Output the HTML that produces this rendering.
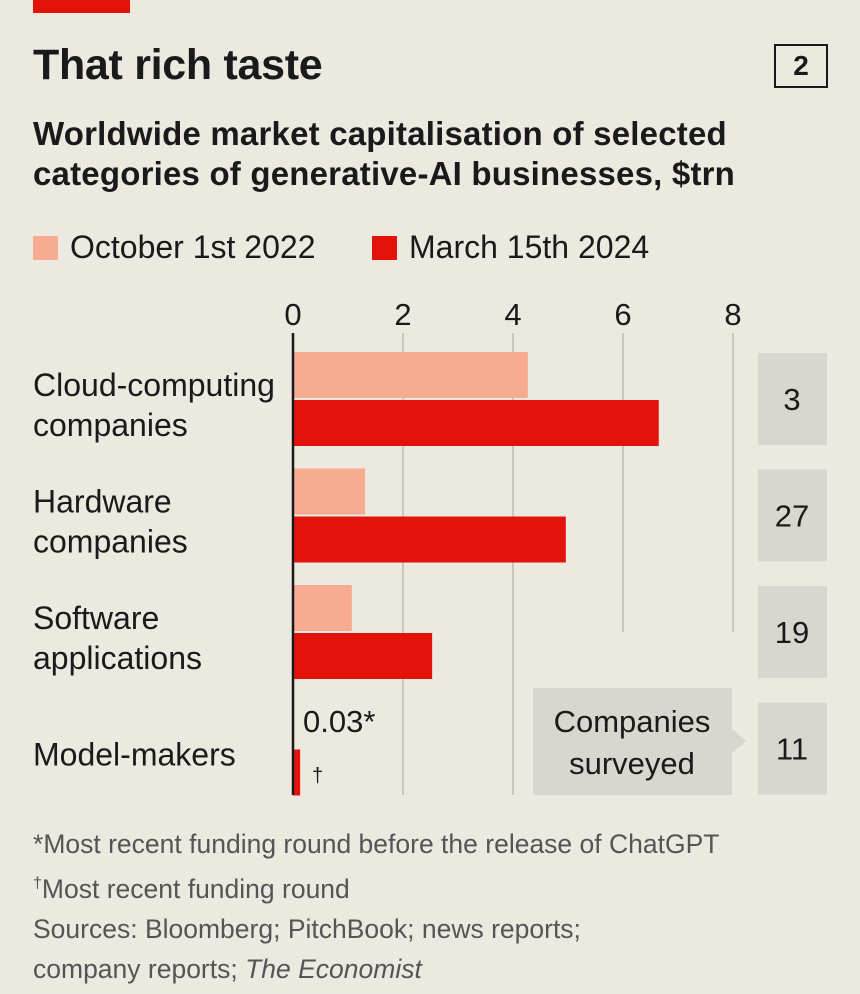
<!DOCTYPE html>
<html><head><meta charset="utf-8"><style>
body{margin:0;background:#ece9e0;}
#c{position:relative;width:860px;height:994px;background:#ece9e0;font-family:"Liberation Sans",sans-serif;color:#1a1a1a;overflow:hidden}
.t{position:absolute;white-space:nowrap}
</style></head><body>
<div id="c">
<div class="t" style="left:33px;top:0;width:97px;height:13px;background:#e3120b"></div>
<div class="t" style="left:33px;top:41px;font-size:43px;font-weight:bold;letter-spacing:-0.3px">That rich taste</div>
<div class="t" style="left:774px;top:44px;width:50px;height:40px;border:2px solid #1a1a1a;font-size:28px;font-weight:bold;text-align:center;line-height:40px">2</div>
<div class="t" style="left:33px;top:114px;font-size:33px;font-weight:bold;line-height:40px;letter-spacing:0.2px">Worldwide market capitalisation of selected<br>categories of generative-AI businesses, $trn</div>
<div class="t" style="left:33px;top:236px;width:25px;height:24px;background:#f7ab90"></div>
<div class="t" style="left:70px;top:229px;font-size:32px">October 1st 2022</div>
<div class="t" style="left:372px;top:236px;width:25px;height:24px;background:#e3120b"></div>
<div class="t" style="left:409px;top:229px;font-size:32px">March 15th 2024</div>
<svg id="s" width="860" height="994" style="position:absolute;left:0;top:0"></svg>
<div class="t" style="left:33px;top:824px;font-size:26.5px;line-height:40px;color:#555">*Most recent funding round before the release of ChatGPT<br><sup style="font-size:16px">†</sup>Most recent funding round<br>Sources: Bloomberg; PitchBook; news reports;<br>company reports; <i>The Economist</i></div>
</div>
<script>
const categories=["Cloud-computing\ncompanies","Hardware\ncompanies","Software\napplications","Model-makers"];
const values2022=[4.27,1.31,1.07,0.03];
const values2024=[6.65,4.96,2.53,0.13];
const companies=["3","27","19","11"];
const ticks=[0,2,4,6,8];
const NS="http://www.w3.org/2000/svg";
const svg=document.getElementById('s');
const x=v=>293+v*55;
const rowTop=i=>352+i*116.5;
function mk(t,a){const e=document.createElementNS(NS,t);for(const k in a)e.setAttribute(k,a[k]);svg.appendChild(e);return e;}
ticks.forEach(t=>{
  if(t>0){const g=mk('line',{x1:x(t),x2:x(t),y1:333,y2:t>=6?632:795,stroke:'#c9c7c0','stroke-width':2});
  
  }
  const l=mk('text',{x:x(t),y:325,'text-anchor':'middle','font-size':31,fill:'#1a1a1a','font-family':'Liberation Sans'});l.textContent=t;
  
  
});
categories.forEach((c,i)=>{
  const top=rowTop(i);
  if(i<3){const b=mk('rect',{x:x(0),y:top,width:x(values2022[i])-x(0),height:46,fill:'#f7ab90'});
  
  }
  const b2=mk('rect',{x:x(0),y:top+48,width:x(values2024[i])-x(0),height:46,fill:'#e3120b'});
  
  
  const lines=c.split('\n');
  const ty=lines.length>1?top+44:top+64;
  lines.forEach((ln,j)=>{const t=mk('text',{x:33,y:ty+j*40,'font-size':32,fill:'#1a1a1a','font-family':'Liberation Sans'});t.textContent=ln;
  
  });
  const g=mk('rect',{x:758,y:top+1,width:69,height:92,fill:'#d8d6cf'});
  
  
  const n=mk('text',{x:792,y:top+58,'text-anchor':'middle','font-size':31,fill:'#1a1a1a','font-family':'Liberation Sans'});n.textContent=companies[i];
  
  
});
const ann=mk('text',{x:303,y:732,'font-size':31,fill:'#1a1a1a','font-family':'Liberation Sans'});ann.textContent=values2022[3]+"*";


const dg=mk('text',{x:312,y:782,'font-size':20,fill:'#1a1a1a','font-family':'Liberation Sans'});dg.textContent="†";


const cb=mk('path',{d:'M533 688 H732 V729 L746 741 L732 753 V795 H533 Z',fill:'#d8d6cf'});


["Companies","surveyed"].forEach((w,j)=>{const t=mk('text',{x:632,y:732+j*42,'text-anchor':'middle','font-size':31,fill:'#1a1a1a','font-family':'Liberation Sans'});t.textContent=w;

});
const ax=mk('line',{x1:x(0),x2:x(0),y1:333,y2:795,stroke:'#1a1a1a','stroke-width':2.5});


</script>
</body></html>
